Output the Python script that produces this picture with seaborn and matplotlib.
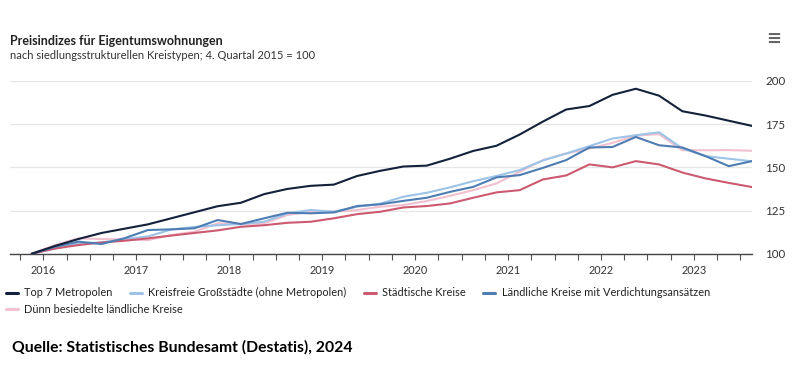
import numpy as np
import pandas as pd
import seaborn as sns
import matplotlib.pyplot as plt
from matplotlib.lines import Line2D

# Quartale: 4. Quartal 2015 bis 3. Quartal 2023 (Quartalsmitte als Jahresbruchteil)
quartale = pd.period_range('2015Q4', '2023Q3', freq='Q')
x_pos = [q.year + (q.quarter - 1) * 0.25 + 0.125 for q in quartale]

top7 = [100, 104.5, 108.5, 112, 114.5, 117, 120.5, 124, 127.5, 129.5, 134.5, 137.5,
        139.3, 140, 145, 148, 150.5, 151, 155, 159.5, 162.5, 169, 176.5, 183.5,
        185.5, 192, 195.5, 191.5, 182.5, 180, 177, 174]
kreisfreie = [100, 103, 106, 106.5, 108.5, 110, 114, 115.5, 116.5, 117.2, 118.5, 123.3,
              125.3, 124.3, 127.2, 129, 133, 135.3, 138.4, 142, 145, 148.4, 154, 158,
              162.3, 166.7, 168.6, 170.3, 161, 156.5, 155, 153.5]
staedtische = [100, 103, 105, 106.5, 107.5, 108.9, 110.5, 112, 113.5, 115.6, 116.5, 117.9,
               118.5, 120.5, 122.9, 124.3, 126.8, 127.6, 129.1, 132.4, 135.5, 136.8, 143, 145.3,
               151.7, 150, 153.6, 151.7, 147, 143.6, 141, 138.6]
laendlich_verd = [100, 104, 107, 105.6, 109, 113.7, 114.1, 114.7, 119.5, 117.2, 120.5, 123.7,
                  123.4, 123.9, 127.6, 128.6, 130.6, 132.4, 135.8, 138.7, 144.2, 145.5, 149.7, 154.2,
                  161.5, 161.8, 167.6, 162.8, 161.5, 156.5, 150.7, 153.6]
duenn = [100, 105, 108.9, 108.5, 108.3, 107.9, 110.8, 112.7, 117.6, 117.2, 117.6, 122.4,
         124.3, 124.3, 125.3, 127.2, 128.2, 130.5, 133.5, 136.8, 140.7, 147.4, 154.2, 158,
         160.9, 164.2, 168.4, 169.2, 159.9, 159.9, 160, 159.6]

namen = ['Top 7 Metropolen', 'Kreisfreie Großstädte (ohne Metropolen)', 'Städtische Kreise',
         'Ländliche Kreise mit Verdichtungsansätzen', 'Dünn besiedelte ländliche Kreise']
farben = ['#13213a', '#9dc3e7', '#cc5a70', '#4d7db3', '#f3c0cf']
jahre = list(range(2016, 2024))

df = pd.DataFrame({'x': x_pos, namen[0]: top7, namen[1]: kreisfreie, namen[2]: staedtische,
                   namen[3]: laendlich_verd, namen[4]: duenn})
df = df.melt(id_vars='x', var_name='Kreistyp', value_name='Index')

sns.set_style('white')
plt.rcParams['font.family'] = ['Lato', 'DejaVu Sans']

fig = plt.figure(figsize=(8.1, 3.66), dpi=100)
ax = fig.add_axes([0.0123, 0.3068, 0.9161, 0.4719])

# Reihenfolge: hellere Linien zuerst, schwarze oben
zeichen_folge = [4, 1, 2, 3, 0]
for k in zeichen_folge:
    sns.lineplot(data=df[df['Kreistyp'] == namen[k]], x='x', y='Index', color=farben[k],
                 linewidth=1.5, ax=ax, legend=False)

ax.set_xlim(2015.64, 2023.625)
ax.set_ylim(100, 200)
ax.set_yticks([100, 125, 150, 175, 200])
ax.yaxis.tick_right()
ax.tick_params(axis='y', length=0, pad=9.5, labelsize=8.3, labelcolor='#333333')
ax.set_xticks(jahre)
ax.set_xticklabels([str(j) for j in jahre])
ax.set_xticks(np.arange(2015.75, 2023.7, 0.25), minor=True)
ax.tick_params(axis='x', which='both', direction='out', length=4, width=0.8, color='#555555',
               labelsize=7.8, labelcolor='#333333', pad=4, bottom=True)
ax.grid(axis='y', color='#e6e6e6', linewidth=0.9)
ax.grid(axis='x', visible=False)
ax.set_xlabel('')
ax.set_ylabel('')
for s in ['top', 'left', 'right']:
    ax.spines[s].set_visible(False)
ax.spines['bottom'].set_color('#444444')
ax.spines['bottom'].set_linewidth(1)
ax.spines['bottom'].set_zorder(5)

fig.text(0.0123, 0.878, 'Preisindizes für Eigentumswohnungen', fontsize=9, fontweight='bold',
         color='#222222')
fig.text(0.0123, 0.838, 'nach siedlungsstrukturellen Kreistypen; 4. Quartal 2015 = 100',
         fontsize=8, color='#333333')
fig.text(0.946, 0.88, '≡', fontsize=13, color='#666666', family='DejaVu Sans', fontweight='bold')

griffe = [Line2D([0], [0], color=f, linewidth=2.2) for f in farben]
leg1 = fig.legend(griffe[:4], namen[:4], loc='upper left', bbox_to_anchor=(0.003, 0.224), ncol=4,
                  frameon=False, fontsize=7.9, handlelength=1.1, handletextpad=0.6,
                  columnspacing=1.55, borderaxespad=0, borderpad=0.3)
for t in leg1.get_texts():
    t.set_color('#222222')
leg2 = fig.legend(griffe[4:], namen[4:], loc='upper left', bbox_to_anchor=(0.003, 0.179), ncol=1,
                  frameon=False, fontsize=7.9, handlelength=1.1, handletextpad=0.6,
                  borderaxespad=0, borderpad=0.3)
for t in leg2.get_texts():
    t.set_color('#222222')

fig.text(0.015, 0.04, 'Quelle: Statistisches Bundesamt (Destatis), 2024', fontsize=11.3,
         fontweight='bold', color='#000000')

fig.savefig('out.png', dpi=100, facecolor='white')
